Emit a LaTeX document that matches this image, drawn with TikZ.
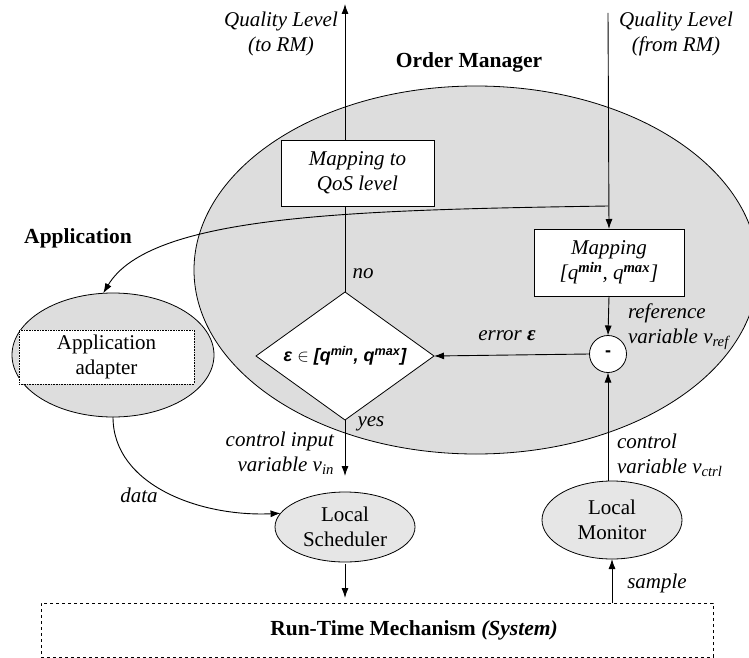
\documentclass[tikz,border=0pt]{standalone}
\usepackage{fontspec}
\setmainfont{Liberation Serif}
\setsansfont{Liberation Sans}
\usetikzlibrary{shapes.geometric,arrows.meta,calc}
\definecolor{omgray}{RGB}{221,221,221}
\definecolor{locgray}{RGB}{230,230,230}
\begin{document}
\begin{tikzpicture}[x=1pt,y=-1pt,
  font=\fontsize{21}{25}\selectfont,
  every node/.style={inner sep=0pt, outer sep=0pt},
  conn/.style={line width=0.9pt},
  arr/.style={conn,-{Latex[length=10pt,width=7pt]}},
  lbl/.style={font=\fontsize{21}{25}\selectfont\itshape},
  ttl/.style={font=\fontsize{21.5}{25}\selectfont\bfseries},
  bigell/.style={ellipse, draw, line width=0.8pt, fill=omgray},
  locell/.style={ellipse, draw, line width=0.8pt, fill=locgray, align=center},
  mapbox/.style={rectangle, draw, line width=0.8pt, fill=white, align=center, font=\fontsize{21}{25}\selectfont\itshape}
]
\useasboundingbox (0,0) rectangle (749,658);

% Order manager ellipse
\node[bigell, minimum width=564, minimum height=368] (om) at (476,270) {};
\node[ttl] (omt) at (469,62) {Order Manager};

% Application side
\node[ttl] (appt) at (78,238) {Application};
\node[bigell, minimum width=202, minimum height=124] (adapter) at (113,355) {};
\node[rectangle, draw, densely dotted, line width=0.6pt, fill=white, minimum width=175, minimum height=54, align=center] (adbox) at (106.5,357) {Application\\adapter};

% boxes
\node[mapbox, minimum width=153, minimum height=66] (qos) at (357.5,173) {Mapping to\\QoS level};
\node[mapbox, minimum width=150, minimum height=67] (map) at (609,262.5) {Mapping\\{}[q\textsuperscript{\bfseries min}, q\textsuperscript{\bfseries max}]};

% comparator
\node[circle, draw, line width=0.8pt, fill=white, minimum size=37, font=\fontsize{18}{20}\selectfont\sffamily\bfseries] (minus) at (608,354) {-};

% decision
\node[diamond, draw, line width=0.8pt, fill=white, aspect=1.39, minimum width=178, minimum height=128,
      font=\fontsize{18}{20}\selectfont\sffamily\bfseries\itshape] (dia) at (345,356)
      {ε $\in$ [q\textsuperscript{min}, q\textsuperscript{max}]};

% local nodes
\node[locell, minimum width=140, minimum height=70] (sched) at (345,527) {Local\\Scheduler};
\node[locell, minimum width=140, minimum height=78] (mon) at (612,520) {Local\\Monitor};

% run-time box
\node[rectangle, draw, dashed, line width=0.8pt, minimum width=672, minimum height=54] (rt) at (377,630) {};
\node[ttl] (rtl) at (414,630) {Run-Time Mechanism \textit{(System)}};

% coordinates
\coordinate (qtop) at (345,4);
\coordinate (qin) at (608,13);
\coordinate (J) at (608,206);

% labels
\node[lbl, align=center] (ql1) at (281,34) {Quality Level\\(to RM)};
\node[lbl, align=center] (ql2) at (676,34) {Quality Level\\(from RM)};
\node[lbl] (no) at (363,274) {no};
\node[lbl] (yes) at (371,424) {yes};
\node[lbl] (err) at (507,336) {error \textbf{ε}};
\node[lbl, align=left, anchor=west] (ref) at (628,327) {reference\\variable v\textsubscript{ref}};
\node[lbl, align=right, anchor=east] (cin) at (334,453) {control input\\variable v\textsubscript{in}};
\node[lbl, align=left, anchor=west] (cv) at (617,455) {control\\variable v\textsubscript{ctrl}};
\node[lbl] (data) at (139,495) {data};
\node[lbl] (samp) at (657,583) {sample};

% connectors
\draw[arr] (qos.north -| qtop) -- (qtop);
\draw[conn] (qos.south -| dia.north) -- (dia.north);
\draw[arr] (qin) -- (map.north);
\draw[arr] (J) .. controls (350,210) and (150,215) .. (adapter.99);
\draw[arr] (map.south) -- (minus.north);
\draw[arr] (minus.west) -- (dia.east);
\draw[arr, shorten >=16pt] (dia.south) -- (sched.north);
\draw[arr] (adapter.south) .. controls (113,485) and (200,517) .. (sched.168);
\draw[arr, shorten <=2pt, shorten >=5pt] (sched.south) -- (sched.south |- rt.north);
\draw[arr] (mon.north -| minus.south) -- (minus.south);
\draw[arr] (rt.north -| mon.south) -- (mon.south);
\end{tikzpicture}
\end{document}
